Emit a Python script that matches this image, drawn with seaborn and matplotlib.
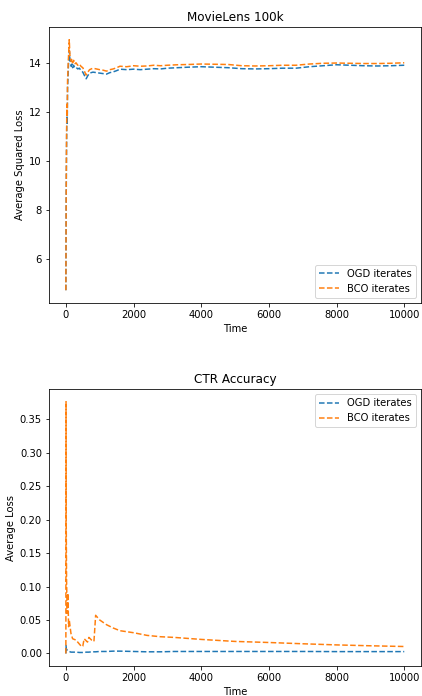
import matplotlib
matplotlib.use("Agg")
import matplotlib.pyplot as plt
import pandas as pd
import seaborn as sns

# MovieLens 100k: average squared loss over time
movie_t = [0, 10, 20, 30, 40, 50, 60, 70, 80, 90, 100, 110, 120, 140, 160, 180, 200, 230, 260, 300,
           350, 400, 450, 500, 550, 600, 650, 700, 800, 900, 1000, 1100, 1200, 1300, 1400, 1500, 1600,
           1800, 2000, 2200, 2400, 2600, 2800, 3000, 3300, 3600, 4000, 4400, 4800, 5200, 5600, 6000,
           6400, 6800, 7200, 7600, 8000, 8400, 8800, 9200, 9600, 10000]
movie_ogd = [4.75, 8.5, 10.5, 12.0, 11.5, 13.0, 13.3, 13.7, 14.0, 14.3, 14.5, 14.35, 14.1, 14.0, 13.85,
             13.95, 13.8, 13.9, 13.8, 13.82, 13.75, 13.78, 13.68, 13.62, 13.48, 13.35, 13.48, 13.58,
             13.62, 13.6, 13.58, 13.56, 13.54, 13.6, 13.63, 13.68, 13.74, 13.72, 13.74, 13.72, 13.74,
             13.76, 13.75, 13.78, 13.8, 13.82, 13.84, 13.82, 13.8, 13.76, 13.75, 13.76, 13.78, 13.78,
             13.84, 13.88, 13.92, 13.9, 13.88, 13.87, 13.88, 13.9]
movie_bco = [4.75, 9.0, 11.0, 12.3, 11.8, 13.3, 13.6, 14.0, 14.3, 14.6, 14.94, 14.6, 14.3, 14.2, 14.05,
             14.15, 14.0, 14.1, 13.95, 14.0, 13.9, 13.95, 13.85, 13.8, 13.65, 13.5, 13.62, 13.72,
             13.78, 13.75, 13.72, 13.7, 13.66, 13.72, 13.75, 13.8, 13.86, 13.84, 13.88, 13.86, 13.87,
             13.9, 13.88, 13.9, 13.92, 13.93, 13.95, 13.94, 13.93, 13.88, 13.87, 13.88, 13.9, 13.9,
             13.95, 13.98, 13.99, 13.98, 13.97, 13.97, 13.98, 14.0]

# CTR accuracy: average loss over time
ctr_t = [0, 5, 10, 20, 40, 60, 80, 100, 150, 200, 300, 400, 470, 500, 540, 600, 640, 680, 760, 830,
         880, 1000, 1200, 1400, 1600, 2000, 2400, 2800, 3200, 4000, 5000, 6000, 7000, 8000, 9000, 10000]
ctr_ogd = [0.0, 0.012, 0.008, 0.006, 0.005, 0.004, 0.003, 0.003, 0.002, 0.002, 0.002, 0.0015, 0.0015,
           0.0015, 0.0015, 0.002, 0.002, 0.002, 0.0025, 0.0025, 0.0025, 0.003, 0.003, 0.0035, 0.0035,
           0.003, 0.0025, 0.0025, 0.003, 0.003, 0.003, 0.003, 0.003, 0.0028, 0.0028, 0.0028]
ctr_bco = [0.0, 0.376, 0.2, 0.11, 0.06, 0.09, 0.04, 0.05, 0.03, 0.022, 0.02, 0.014, 0.01, 0.011, 0.022,
           0.019, 0.017, 0.024, 0.02, 0.018, 0.057, 0.05, 0.043, 0.038, 0.034, 0.031, 0.027, 0.025,
           0.024, 0.021, 0.018, 0.0164, 0.0145, 0.0128, 0.0115, 0.0104]

labels = ["OGD iterates", "BCO iterates"]

plt.rcParams["font.size"] = 10
fig = plt.figure(figsize=(422 / 72, 696 / 72), dpi=72)
ax1 = fig.add_axes([0.116, 0.565, 0.882, 0.396])
ax2 = fig.add_axes([0.116, 0.043, 0.882, 0.398])

movie = pd.DataFrame({"Time": movie_t, "ogd": movie_ogd, "bco": movie_bco})
ctr = pd.DataFrame({"Time": ctr_t, "ogd": ctr_ogd, "bco": ctr_bco})

for ax, df in [(ax1, movie), (ax2, ctr)]:
    sns.lineplot(data=df, x="Time", y="ogd", ax=ax, color="C0", linestyle="--", label=labels[0])
    sns.lineplot(data=df, x="Time", y="bco", ax=ax, color="C1", linestyle="--", label=labels[1])

ax1.set_title("MovieLens 100k", fontsize=12)
ax1.set_ylabel("Average Squared Loss")
ax1.set_yticks([6, 8, 10, 12, 14])
ax1.set_xticks([0, 2000, 4000, 6000, 8000, 10000])
ax1.legend(loc="lower right")

ax2.set_title("CTR Accuracy", fontsize=12)
ax2.set_ylabel("Average Loss")
ax2.set_xticks([0, 2000, 4000, 6000, 8000, 10000])
ax2.legend(loc="upper right")

fig.savefig("out.png", dpi=72)
